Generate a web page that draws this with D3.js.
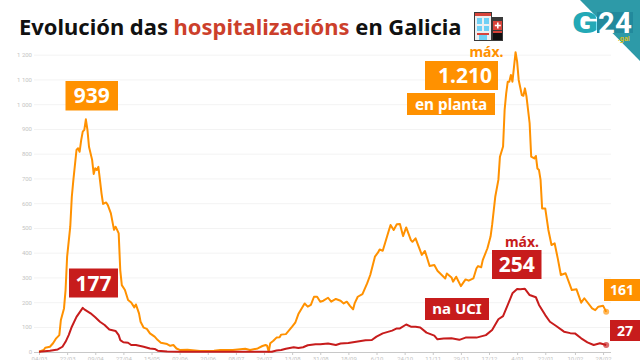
<!DOCTYPE html>
<html>
<head>
<meta charset="utf-8">
<script src="https://cdnjs.cloudflare.com/ajax/libs/d3/7.8.5/d3.min.js"></script>
<style>
	html, body { margin: 0; padding: 0; background: #fff; }
	svg { display: block; font-family: "Noto Sans", sans-serif; }
</style>
</head>
<body>
<svg id="chart" width="640" height="360"></svg>
<script>
// Days counted from 04/03/2020
var plantaDays = [0,3,4,7,9,11,13,14,16,17,18,20,21,22,24,25,26,27,28,29,30,31,32,34,35,36,37,38,39,40,41,43,44,46,48,49,50,51,52,53,55,57,59,61,62,64,65,67,69,71,74,76,78,82,84,86,88,90,95,103,112,116,124,132,135,140,143,145,146,147,148,150,152,154,155,158,162,164,166,170,172,174,176,178,180,182,185,187,190,193,195,197,199,201,202,204,207,210,212,215,217,218,220,224,225,227,229,231,233,235,238,239,241,245,247,250,253,255,260,261,264,265,267,270,273,275,278,280,281,283,284,287,289,290,292,294,295,297,298,299,300,301,302,303,305,306,307,309,310,311,312,314,315,317,318,319,320,321,322,324,326,328,330,332,334,337,339,341,344,347,349,354,356,358,361,363];
var plantaValues = [0,7,16,20,34,54,67,128,175,249,384,505,626,694,815,822,808,855,889,896,939,896,828,775,718,741,734,747,694,640,597,603,593,559,492,505,492,478,330,269,249,209,199,179,191,155,121,97,92,74,61,47,36,31,24,27,13,7,8,3,4,7,7,12,7,13,23,27,24,0,34,44,57,58,69,71,101,117,152,195,182,189,222,222,202,206,218,202,213,206,195,202,185,171,195,222,233,276,310,384,401,413,408,492,512,492,515,516,467,502,451,444,458,391,407,346,350,327,296,316,300,283,303,265,292,287,296,337,346,341,370,418,465,512,626,694,788,829,977,1044,1091,1091,1118,1091,1210,1172,1098,1037,1034,1064,1031,923,788,781,791,740,734,694,579,579,492,431,438,377,310,317,283,249,252,198,216,175,168,182,186,161];
var uciDays = [0,7,12,15,17,19,21,24,28,29,33,36,39,42,45,49,51,52,54,57,59,62,67,71,74,76,82,90,146,149,152,155,158,163,166,169,172,177,180,185,190,193,198,203,209,213,216,220,226,229,231,235,238,241,244,248,253,255,259,264,269,273,280,286,290,294,297,300,303,306,308,311,314,318,320,324,327,331,336,340,343,347,351,355,359,363];
var uciValues = [0,4,9,20,40,67,101,141,177,171,155,139,121,108,90,84,67,47,38,36,27,27,20,13,11,4,1,0,0,0,5,7,12,18,15,18,26,30,30,33,27,33,35,40,46,47,61,74,85,94,94,110,101,101,98,77,65,50,53,54,48,57,57,67,88,131,144,189,236,253,252,254,229,220,189,148,121,104,81,75,74,54,38,27,34,27];

var yTicks = [0,100,200,300,400,500,600,700,800,900,1000,1100,1200];
var yLabels = ['0','100','200','300','400','500','600','700','800','900','1 000','1 100','1 200'];
var xTicks = [0,18,36,54,72,90,108,126,144,162,180,198,216,234,252,270,288,306,324,343,361];
var xLabels = ['04/03','22/03','09/04','27/04','15/05','02/06','20/06','08/07','26/07','13/08','31/08','18/09','6/10','24/10','11/11','29/11','17/12','4/01','22/01','10/02','28/02'];

var orange = '#ff9100',
	red = '#c71c1c',
	titleRed = '#cc3f2b',
	teal = '#2d9aa8';

var svg = d3.select('#chart');

var x = d3.scaleLinear().domain([0, 364]).range([39, 607.75]),
	y = d3.scaleLinear().domain([0, 1200]).range([351.7, 54.7]);

// Grid and axes
var yAxis = svg.append('g')
	.attr('transform', 'translate(34,0)')
	.call(d3.axisLeft(y).tickValues(yTicks).tickSize(0).tickPadding(2)
		.tickFormat(function(d, i) { return yLabels[i]; }));
yAxis.select('.domain').remove();
yAxis.selectAll('text').attr('font-size', 6).attr('fill', '#c4c4c4').attr('font-family', 'Roboto');
yAxis.selectAll('line')
	.attr('x2', 577)
	.attr('stroke', function(d) { return d == 0 ? 'none' : '#f3f3f3'; });

var xAxis = svg.append('g')
	.attr('transform', 'translate(0,352)')
	.call(d3.axisBottom(x).tickValues(xTicks).tickSize(3).tickPadding(2)
		.tickFormat(function(d, i) { return xLabels[i]; }));
xAxis.select('.domain').attr('stroke', '#c8c8c8').attr('d', 'M34,0.5H611');
xAxis.selectAll('line').attr('stroke', '#c8c8c8');
xAxis.selectAll('text').attr('font-size', 6).attr('fill', '#c4c4c4').attr('font-family', 'Roboto');

// Lines
var line = d3.line()
	.x(function(d) { return x(d[0]); })
	.y(function(d) { return y(d[1]); });

function drawSeries(days, values, color) {
	var points = d3.zip(days, values);
	svg.append('path')
		.attr('d', line(points))
		.attr('fill', 'none')
		.attr('stroke', color)
		.attr('stroke-width', 2)
		.attr('stroke-linejoin', 'round');
	var last = points[points.length - 1];
	svg.append('circle')
		.attr('cx', x(last[0]))
		.attr('cy', y(last[1]))
		.attr('r', 3)
		.attr('fill', color)
		.attr('fill-opacity', 0.65);
}
drawSeries(plantaDays, plantaValues, orange);
drawSeries(uciDays, uciValues, red);

// Boxed labels
var boxes = [
	{ text: '939', x: 65.5, y: 81, w: 52.5, h: 29.5, size: 21, fill: orange },
	{ text: '177', x: 69, y: 268.5, w: 49, h: 29, size: 21, fill: red },
	{ text: '1.210', x: 425, y: 61, w: 73, h: 29, size: 21, fill: orange, anchor: 'end', tx: 492 },
	{ text: 'en planta', x: 407, y: 93, w: 88, h: 22, size: 15.3, fill: orange },
	{ text: '254', x: 492, y: 250, w: 49.5, h: 29, size: 21, fill: red },
	{ text: 'na UCI', x: 425, y: 298, w: 64, h: 22, size: 15, fill: red },
	{ text: '161', x: 604, y: 279, w: 36, h: 22, size: 14, fill: orange },
	{ text: '27', x: 610, y: 320, w: 30, h: 21, size: 14, fill: red }
];
var box = svg.append('g').selectAll('g').data(boxes).enter().append('g');
box.append('rect')
	.attr('x', function(d) { return d.x; })
	.attr('y', function(d) { return d.y; })
	.attr('width', function(d) { return d.w; })
	.attr('height', function(d) { return d.h; })
	.attr('fill', function(d) { return d.fill; });
box.append('text')
	.attr('x', function(d) { return d.tx || d.x + d.w / 2; })
	.attr('y', function(d) { return d.y + d.h / 2; })
	.attr('dy', '0.36em')
	.attr('text-anchor', function(d) { return d.anchor || 'middle'; })
	.attr('font-size', function(d) { return d.size; })
	.attr('font-weight', 700)
	.attr('fill', '#fff')
	.text(function(d) { return d.text; });

svg.append('text').attr('x', 486.5).attr('y', 57).attr('text-anchor', 'middle')
	.attr('font-size', 14).attr('font-weight', 700).attr('fill', orange).text('máx.');
svg.append('text').attr('x', 522).attr('y', 247).attr('text-anchor', 'middle')
	.attr('font-size', 14).attr('font-weight', 700).attr('fill', red).text('máx.');

// Title
var title = svg.append('text').attr('x', 19).attr('y', 35)
	.attr('font-size', 21.95).attr('font-weight', 700).attr('fill', '#111');
title.append('tspan').text('Evolución das ');
title.append('tspan').attr('fill', titleRed).text('hospitalizacións');
title.append('tspan').text(' en Galicia');

// Hospital icon
var icon = svg.append('g').attr('transform', 'translate(474,12)');
icon.append('rect').attr('width', 18).attr('height', 29).attr('fill', '#3a3a3a');
icon.append('rect').attr('x', 1).attr('y', 1).attr('width', 16).attr('height', 27).attr('fill', '#eceff1');
icon.append('rect').attr('x', 1).attr('y', 1).attr('width', 16).attr('height', 3).attr('fill', '#d8433a');
icon.append('rect').attr('x', 3).attr('y', 6).attr('width', 5).attr('height', 6).attr('fill', '#6fd0f5');
icon.append('rect').attr('x', 10).attr('y', 6).attr('width', 5).attr('height', 6).attr('fill', '#6fd0f5');
icon.append('rect').attr('x', 3).attr('y', 14).attr('width', 5).attr('height', 5).attr('fill', '#6fd0f5');
icon.append('rect').attr('x', 10).attr('y', 14).attr('width', 5).attr('height', 5).attr('fill', '#6fd0f5');
icon.append('rect').attr('x', 3).attr('y', 21).attr('width', 12).attr('height', 2).attr('fill', '#d8433a');
icon.append('rect').attr('x', 5).attr('y', 23).attr('width', 8).attr('height', 5).attr('fill', '#6fd0f5');
icon.append('rect').attr('x', 18).attr('y', 5).attr('width', 11).attr('height', 24).attr('fill', '#3a3a3a');
icon.append('rect').attr('x', 19).attr('y', 9).attr('width', 9).attr('height', 9).attr('fill', '#d8433a');
icon.append('rect').attr('x', 23).attr('y', 10.5).attr('width', 1.6).attr('height', 6).attr('fill', '#fff');
icon.append('rect').attr('x', 20.8).attr('y', 12.7).attr('width', 6).attr('height', 1.6).attr('fill', '#fff');
icon.append('rect').attr('x', 19).attr('y', 19).attr('width', 9).attr('height', 2).attr('fill', '#d8433a');
icon.append('rect').attr('x', 19).attr('y', 21).attr('width', 9).attr('height', 7).attr('fill', '#111');

// Logo
svg.append('path').attr('d', 'M580,0H640V61Z').attr('fill', teal);
svg.append('rect').attr('x', 597).attr('y', 12).attr('width', 36).attr('height', 21).attr('fill', '#22899c');
svg.append('text').attr('x', 572).attr('y', 33).attr('font-size', 29.5).attr('font-weight', 900)
	.attr('font-family', 'Roboto').attr('fill', '#23a9b6')
	.attr('textLength', 26).attr('lengthAdjust', 'spacingAndGlyphs').text('G');
svg.append('text').attr('x', 598).attr('y', 33).attr('font-size', 29.5).attr('font-weight', 700)
	.attr('font-family', 'Roboto').attr('fill', '#fff').text('24');
svg.append('text').attr('x', 618).attr('y', 41).attr('font-size', 6.5).attr('font-weight', 700)
	.attr('fill', '#dcc020').text('.gal');
</script>
</body>
</html>
